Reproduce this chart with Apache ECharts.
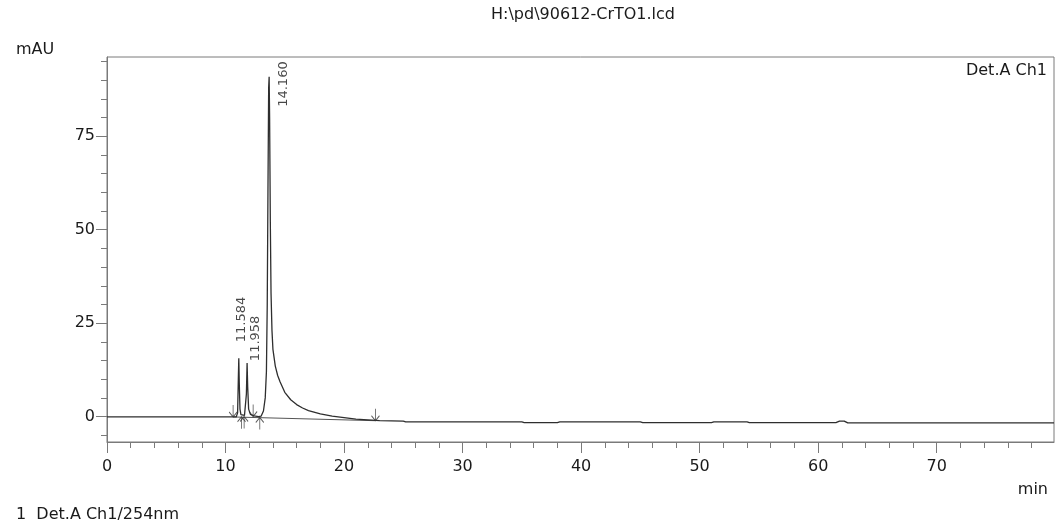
<!DOCTYPE html>
<html>
<head>
<meta charset="utf-8">
<script src="https://cdn.jsdelivr.net/npm/echarts@6/dist/echarts.min.js"></script>
<style>
html,body{margin:0;padding:0;background:#fff;}
#c{width:1055px;height:521px;}
</style>
</head>
<body>
<div id="c"></div>
<script>
// ---- data ----
const times = [0, 3, 6, 9, 10, 10.5, 10.9, 11.02, 11.08, 11.12, 11.16, 11.22, 11.3, 11.45, 11.6, 11.7, 11.76, 11.82, 11.87, 11.95, 12.1, 12.4, 12.8, 13.0, 13.2, 13.35, 13.45, 13.52, 13.58, 13.64, 13.68, 13.72, 13.78, 13.84, 13.92, 14.0, 14.2, 14.4, 14.6, 15.0, 15.5, 16.0, 16.5, 17.0, 18.0, 19.0, 20.0, 21.0, 22.0, 23.0, 25.0, 25.2, 30.0, 35.0, 35.2, 38.0, 38.2, 45.0, 45.2, 51.0, 51.2, 54.0, 54.2, 61.5, 61.8, 62.2, 62.5, 70.0, 79.9];
const signal = [-0.1, -0.1, -0.1, -0.1, -0.1, -0.1, -0.1, 1.0, 10.0, 15.6, 9.0, 2.0, 0.5, 0.2, 0.3, 0.5, 6.0, 14.3, 8.0, 2.0, 0.6, 0.2, 0.0, 0.1, 1.5, 5.0, 12.0, 30.0, 60.0, 88.0, 90.9, 80.0, 52.0, 33.0, 23.0, 18.0, 13.5, 11.0, 9.3, 6.5, 4.5, 3.2, 2.3, 1.6, 0.7, 0.1, -0.3, -0.7, -0.9, -1.1, -1.2, -1.4, -1.4, -1.4, -1.6, -1.6, -1.4, -1.4, -1.6, -1.6, -1.4, -1.4, -1.6, -1.6, -1.2, -1.2, -1.7, -1.7, -1.7];

const peakNames = ["11.584", "11.958", "14.160"];
const peakTimes = [11.12, 11.82, 13.68];
const peakHeights = [15.6, 14.3, 90.9];

const startMarks = [[10.64, -0.1], [12.33, 0.0], [22.65, -1.1]];   // ↓
const endMarks = [[11.35, 0.2], [11.57, 0.3], [12.89, 0.0]];       // ↑

const baseTimes = [10.64, 22.65];
const baseValues = [-0.1, -1.1];

const xMajorTicks = [0, 10, 20, 30, 40, 50, 60, 70];
const xMinorTicks = [0, 2, 4, 6, 8, 10, 12, 14, 16, 18, 20, 22, 24, 26, 28, 30, 32, 34, 36, 38, 40, 42, 44, 46, 48, 50, 52, 54, 56, 58, 60, 62, 64, 66, 68, 70, 72, 74, 76, 78];
const yMajorTicks = [0, 25, 50, 75];
const yMinorTicks = [-5, 0, 5, 10, 15, 20, 25, 30, 35, 40, 45, 50, 55, 60, 65, 70, 75, 80, 85, 90, 95];

const titleText = "H:\\pd\\90612-CrTO1.lcd";
const yUnit = "mAU";
const xUnit = "min";
const channelText = "Det.A Ch1";
const legendText = "1  Det.A Ch1/254nm";

// ---- styles ----
const FONT = "DejaVu Sans";
const AX = "#7a7a7a";
const TXT = "#1a1a1a";
// label offsets are given in the rotated (90°) label frame: [up, right]
const labelOffsets = [[16, 3], [2, 9], [-30, 14]];

const chart = echarts.init(document.getElementById('c'), null, {renderer: 'canvas'});

const signalData = times.map((t, i) => [t, signal[i]]);
const baseData = baseTimes.map((t, i) => [t, baseValues[i]]);
const peakData = peakTimes.map((t, i) => ({
  value: [t, peakHeights[i]], name: peakNames[i],
  label: {offset: labelOffsets[i]}
}));

const xRange = {min: 0, max: 79.9};
const yRange = {min: -6.8, max: 96.2};

chart.setOption({
  animation: false,
  backgroundColor: '#fff',
  textStyle: {fontFamily: FONT},
  title: [
    {text: titleText, left: 578, top: 2, textAlign: 'center',
     textStyle: {fontFamily: FONT, fontSize: 16, fontWeight: 'normal', color: TXT}},
    {text: yUnit, left: 11, top: 37,
     textStyle: {fontFamily: FONT, fontSize: 16, fontWeight: 'normal', color: TXT}},
    {text: channelText, right: 3, top: 58,
     textStyle: {fontFamily: FONT, fontSize: 16, fontWeight: 'normal', color: TXT}},
    {text: xUnit, right: 2, top: 477,
     textStyle: {fontFamily: FONT, fontSize: 16, fontWeight: 'normal', color: TXT}},
    {text: legendText, left: 11, top: 502,
     textStyle: {fontFamily: FONT, fontSize: 16, fontWeight: 'normal', color: TXT}}
  ],
  grid: {left: 107, top: 57, right: 1, bottom: 79, show: true, borderColor: AX, borderWidth: 1, backgroundColor: 'transparent'},
  xAxis: [
    {type: 'value', min: xRange.min, max: xRange.max, position: 'bottom',
     axisLine: {show: true, onZero: false, lineStyle: {color: AX, width: 1}},
     axisTick: {show: true, customValues: xMajorTicks, length: 11, lineStyle: {color: AX}},
     axisLabel: {show: true, customValues: xMajorTicks, margin: 17, color: TXT, fontSize: 16, fontFamily: FONT},
     splitLine: {show: false}},
    {type: 'value', min: xRange.min, max: xRange.max, position: 'bottom', offset: 0,
     axisLine: {show: false, onZero: false},
     axisTick: {show: true, customValues: xMinorTicks, length: 6, lineStyle: {color: AX}},
     axisLabel: {show: false},
     splitLine: {show: false}}
  ],
  yAxis: [
    {type: 'value', min: yRange.min, max: yRange.max, position: 'left',
     axisLine: {show: true, onZero: false, lineStyle: {color: AX, width: 1}},
     axisTick: {show: true, customValues: yMajorTicks, length: 11, lineStyle: {color: AX}},
     axisLabel: {show: true, customValues: yMajorTicks, margin: 12, color: TXT, fontSize: 16, fontFamily: FONT},
     splitLine: {show: false}},
    {type: 'value', min: yRange.min, max: yRange.max, position: 'left', offset: 0,
     axisLine: {show: false, onZero: false},
     axisTick: {show: true, customValues: yMinorTicks, length: 6, lineStyle: {color: AX}},
     axisLabel: {show: false},
     splitLine: {show: false}}
  ],
  series: [
    {type: 'line', name: 'baseline', data: baseData, xAxisIndex: 0, yAxisIndex: 0,
     showSymbol: false, symbol: 'none', silent: true,
     lineStyle: {color: '#555', width: 1}, z: 2},
    {type: 'line', name: 'signal', data: signalData, xAxisIndex: 0, yAxisIndex: 0,
     showSymbol: false, symbol: 'none', silent: true,
     lineStyle: {color: '#2e2e2e', width: 1.3}, z: 3},
    {type: 'scatter', name: 'start', data: startMarks, xAxisIndex: 0, yAxisIndex: 0,
     symbol: 'path://M4,0L4,12M0,7L4,12L8,7', symbolSize: [8, 12], symbolKeepAspect: false,
     symbolOffset: [0, -6], silent: true,
     itemStyle: {color: 'rgba(0,0,0,0)', borderColor: '#333', borderWidth: 1}, z: 4},
    {type: 'scatter', name: 'end', data: endMarks, xAxisIndex: 0, yAxisIndex: 0,
     symbol: 'path://M4,12L4,0M0,5L4,0L8,5', symbolSize: [8, 12], symbolKeepAspect: false,
     symbolOffset: [0, 7], silent: true,
     itemStyle: {color: 'rgba(0,0,0,0)', borderColor: '#333', borderWidth: 1}, z: 4},
    {type: 'scatter', name: 'peaks', data: peakData, xAxisIndex: 0, yAxisIndex: 0,
     symbolSize: 0, silent: true, z: 5,
     label: {show: true, position: 'inside', rotate: 90, align: 'left', verticalAlign: 'middle',
             formatter: p => p.name, color: TXT, fontSize: 13, fontFamily: FONT}}
  ]
});
</script>
</body>
</html>
